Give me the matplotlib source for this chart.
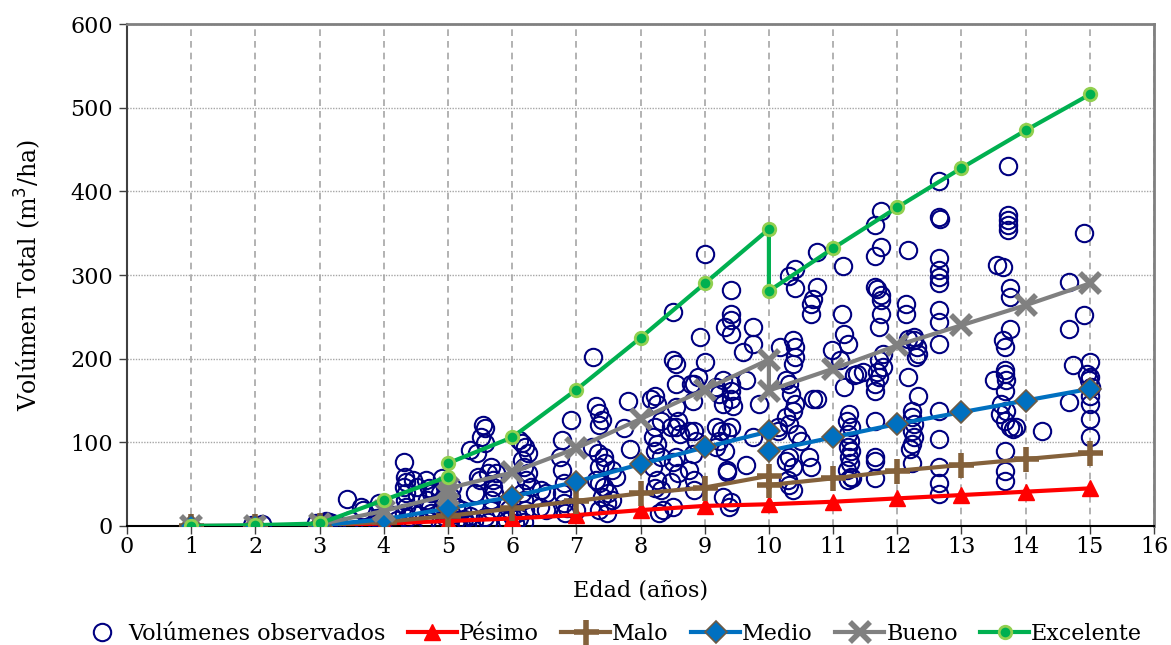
import matplotlib
matplotlib.use('Agg')
import matplotlib.pyplot as plt

# Model curves (age in years, total volume m3/ha)
pesimo_age = [1, 2, 3, 4, 5, 6, 7, 8, 9, 10, 11, 12, 13, 14, 15]
pesimo_vol = [0, 0, 1, 3, 6, 9, 13, 19, 24, 26, 29, 33, 37, 41, 45]

malo_age = [1, 2, 3, 4, 5, 6, 7, 8, 9, 10, 10, 11, 12, 13, 14, 15]
malo_vol = [0, 0, 1, 5, 12, 21, 30, 39, 46, 60, 49, 57, 66, 73, 80, 87]

medio_age = [1, 2, 3, 4, 5, 6, 7, 8, 9, 10, 10, 11, 12, 13, 14, 15]
medio_vol = [0, 0, 1, 8, 21, 35, 53, 74, 94, 113, 90, 106, 122, 136, 150, 164]

bueno_age = [1, 2, 3, 4, 5, 5, 6, 7, 8, 9, 10, 10, 11, 12, 13, 14, 15]
bueno_vol = [0, 0, 2, 18, 37, 45, 64, 93, 128, 163, 199, 162, 188, 216, 240, 264, 290]

excel_age = [1, 2, 3, 4, 5, 5, 6, 7, 8, 9, 10, 10, 11, 12, 13, 14, 15]
excel_vol = [0, 1, 3, 31, 59, 75, 106, 163, 225, 290, 355, 281, 332, 381, 428, 473, 516]

# Observed volumes (age, volume)
observados = [
    # ~2-3 years
    (1.95, 1), (2.1, 2),
    (2.95, 3), (3.0, 1), (3.05, 4), (3.1, 2), (3.15, 5), (3.2, 3), (3.05, 0), (3.1, 6),
    (3.42, 32), (3.47, 7), (3.52, 1), (3.65, 23), (3.67, 19), (3.89, 10), (3.98, 7),
    (3.9, 4), (3.92, 28), (4.17, 13), (4.2, 7), (4.14, 1),
    # ~4-5 years
    (4.32, 77), (4.33, 59), (4.35, 53), (4.31, 47), (4.34, 39), (4.33, 31), (4.35, 23),
    (4.31, 15), (4.36, 9),
    (4.46, 55), (4.51, 47), (4.51, 37), (4.46, 15), (4.53, 13),
    (4.66, 55), (4.7, 45), (4.74, 39), (4.68, 31), (4.72, 23), (4.74, 15), (4.68, 7),
    (4.9, 57), (4.95, 47), (4.88, 39), (4.93, 31), (4.9, 19), (4.95, 11), (4.88, 3),
    (5.07, 47), (5.05, 35), (5.12, 23), (5.07, 13), (5.12, 7), (5.22, 19),
    (5.2, 1), (5.25, 8), (5.3, 2), (5.15, 2), (5.35, 12), (5.4, 6),
    (5.34, 91), (5.45, 87), (5.55, 121), (5.57, 117), (5.52, 107), (5.57, 99), (5.47, 59),
    (5.42, 39), (5.5, 55), (5.62, 63), (5.67, 71), (5.7, 55), (5.7, 47), (5.72, 39),
    (5.75, 63), (5.67, 31), (5.67, 19), (5.57, 11), (5.62, 5),
    (5.9, 28), (5.95, 20), (6.0, 12), (5.92, 6), (6.05, 3),
    # ~6-7 years
    (6.1, 103), (6.15, 99), (6.2, 95), (6.25, 87), (6.15, 79), (6.18, 71), (6.25, 63),
    (6.22, 55), (6.3, 47), (6.15, 39), (6.18, 31), (6.2, 19), (6.08, 15), (6.1, 9), (6.18, 5),
    (6.45, 43), (6.53, 39), (6.43, 23), (6.53, 19),
    (6.92, 127), (6.78, 103), (6.75, 83), (6.78, 67), (6.8, 51), (6.78, 39), (6.8, 27),
    (6.85, 21), (6.82, 15), (7.0, 19),
    (7.3, 143), (7.35, 135), (7.4, 127), (7.35, 121),
    (7.25, 95), (7.33, 87), (7.43, 83), (7.45, 75), (7.35, 71), (7.55, 67), (7.62, 59),
    (7.35, 51), (7.43, 47), (7.5, 39), (7.4, 35), (7.3, 55), (7.48, 27), (7.55, 31),
    (7.35, 19), (7.48, 15),
    (7.26, 202), (7.75, 117), (7.83, 92), (7.8, 150),
    # ~8-9 years
    (8.17, 152), (8.23, 156), (8.26, 146), (8.23, 118), (8.32, 126), (8.2, 106), (8.26, 98),
    (8.23, 90), (8.32, 82), (8.2, 70), (8.26, 55), (8.32, 43), (8.23, 45), (8.35, 19), (8.29, 15),
    (8.56, 170), (8.5, 198), (8.56, 194), (8.56, 142), (8.59, 126), (8.47, 118), (8.56, 118),
    (8.62, 110), (8.56, 82), (8.5, 76), (8.59, 63), (8.47, 53), (8.5, 23), (8.5, 256),
    (8.78, 170), (8.84, 170), (8.81, 150), (8.75, 114), (8.84, 114), (8.87, 102), (8.81, 86),
    (8.75, 67), (8.84, 55), (8.84, 43), (8.9, 178), (9.0, 196), (8.93, 226),
    (9.0, 325), (9.17, 166), (9.23, 158), (9.29, 146), (9.17, 118), (9.26, 114), (9.23, 102),
    (9.17, 94), (9.32, 90), (9.35, 67), (9.29, 35), (9.41, 29), (9.38, 23),
    (9.41, 282), (9.41, 254), (9.41, 246), (9.32, 238), (9.41, 230), (9.59, 208), (9.75, 238),
    (9.75, 218), (9.65, 174), (9.41, 170), (9.41, 162), (9.41, 152), (9.44, 144), (9.29, 174),
    (9.41, 118), (9.35, 112), (9.75, 106), (9.65, 73), (9.35, 65), (9.84, 146),
    # ~10-11 years
    (10.17, 214), (10.38, 222), (10.41, 214), (10.41, 202), (10.38, 194), (10.26, 174),
    (10.32, 170), (10.35, 158), (10.41, 146), (10.38, 138), (10.26, 130), (10.32, 122),
    (10.14, 118), (10.44, 110), (10.32, 82), (10.26, 78), (10.38, 70), (10.29, 55),
    (10.38, 43), (10.32, 49), (10.5, 102), (10.62, 82), (10.65, 70), (10.68, 152),
    (10.75, 152), (10.75, 286), (10.68, 272), (10.65, 266), (10.65, 254), (10.14, 114),
    (10.32, 299), (10.41, 307), (10.41, 285), (10.75, 328),
    (11.16, 311), (11.14, 254), (11.17, 230), (11.23, 218), (10.99, 210), (11.11, 198),
    (11.17, 166), (11.32, 180), (11.38, 182), (11.47, 184), (11.65, 170), (11.65, 162),
    (11.71, 178), (11.68, 184), (11.71, 198), (11.71, 238), (11.75, 254), (11.75, 270),
    (11.65, 286),
    (11.25, 134), (11.22, 126), (11.28, 118), (11.24, 110), (11.27, 102), (11.24, 94),
    (11.28, 90), (11.25, 82), (11.27, 75), (11.22, 67), (11.28, 59), (11.24, 55), (11.3, 57),
    (11.65, 126), (11.65, 82), (11.65, 78), (11.65, 57), (11.78, 206), (11.78, 190),
    (11.65, 360), (11.75, 377), (11.65, 323), (11.75, 333), (11.68, 283), (11.75, 276),
    # ~12-13 years
    (12.16, 330), (12.14, 266), (12.14, 254), (12.17, 224), (12.26, 222), (12.32, 206),
    (12.29, 202), (12.17, 178), (12.32, 156), (12.23, 138), (12.23, 130), (12.26, 122),
    (12.23, 114), (12.26, 106), (12.23, 98), (12.2, 92), (12.23, 75), (12.26, 226), (12.3, 214),
    (12.65, 413), (12.65, 370), (12.66, 367), (12.65, 321), (12.65, 306), (12.65, 298),
    (12.65, 290), (12.65, 258), (12.65, 244), (12.65, 218), (12.65, 138), (12.65, 104),
    (12.65, 70), (12.65, 52), (12.65, 38),
    # ~13.5-15 years
    (13.73, 430), (13.73, 372), (13.73, 366), (13.73, 360), (13.73, 354), (13.56, 312),
    (13.65, 310), (13.75, 284), (13.75, 274), (13.75, 236), (13.65, 222), (13.68, 214),
    (13.5, 174), (13.68, 182), (13.7, 174), (13.68, 162), (13.62, 146), (13.6, 134),
    (13.68, 126), (13.75, 118), (13.8, 116), (13.85, 118), (13.68, 90), (13.68, 66),
    (13.68, 54), (13.68, 186), (13.7, 138),
    (14.25, 113),
    (14.91, 350), (14.67, 292), (14.91, 252), (14.67, 236), (14.74, 192), (15.0, 196),
    (14.95, 182), (14.98, 174), (15.0, 178), (15.02, 166), (15.0, 156), (15.0, 146),
    (15.0, 128), (15.0, 106), (14.67, 148),
]
obs_age = [p[0] for p in observados]
obs_vol = [p[1] for p in observados]

x_ticks = list(range(0, 17))
y_ticks = [0, 100, 200, 300, 400, 500, 600]

plt.rcParams['font.family'] = ['DejaVu Serif']

fig = plt.figure(figsize=(11.71, 6.45), dpi=100)
ax = fig.add_axes([0.1085, 0.1845, 0.877, 0.778])

ax.plot(obs_age, obs_vol, linestyle='none', marker='o', ms=12.5, mfc='none',
        mec='#000080', mew=1.5, label='Volúmenes observados', zorder=3)
ax.plot(pesimo_age, pesimo_vol, color='#FF0000', lw=3, marker='^', ms=11,
        mfc='#FF0000', mec='#FF0000', label='Pésimo', zorder=4)
ax.plot(malo_age, malo_vol, color='#84613B', lw=3, marker='+', ms=18, mew=4,
        label='Malo', zorder=4)
ax.plot(medio_age, medio_vol, color='#0070C0', lw=3, marker='D', ms=11,
        mfc='#0070C0', mec='#6B5A45', mew=1.2, label='Medio', zorder=4)
ax.plot(bueno_age, bueno_vol, color='#808080', lw=3, marker='x', ms=14, mew=4,
        label='Bueno', zorder=4)
ax.plot(excel_age, excel_vol, color='#00B050', lw=3, marker='o', ms=9,
        mfc='#00B050', mec='#92D050', mew=2, label='Excelente', zorder=5)

ax.set_xlim(0, 16)
ax.set_ylim(0, 600)
ax.set_xticks(x_ticks)
ax.set_yticks(y_ticks)
ax.tick_params(axis='both', labelsize=16, direction='out', length=6, width=1, color='#404040')
ax.tick_params(axis='x', pad=1)
ax.tick_params(axis='y', pad=4)

ax.xaxis.grid(True, linestyle=(0, (4, 3)), color='#A6A6A6', lw=1.2)
ax.yaxis.grid(True, linestyle=(0, (1, 1)), color='#A6A6A6', lw=1.0)
ax.set_axisbelow(True)

for side in ['top', 'right']:
    ax.spines[side].set_color('#808080')
    ax.spines[side].set_linewidth(2)
ax.spines['left'].set_color('#404040')
ax.spines['bottom'].set_color('#000000')
ax.spines['left'].set_linewidth(1.5)
ax.spines['bottom'].set_linewidth(1.5)

ax.set_xlabel('Edad (años)', fontsize=16, labelpad=16)
ax.set_ylabel('Volúmen Total (m$^3$/ha)', fontsize=17, labelpad=20)

ax.legend(loc='upper center', bbox_to_anchor=(0.47, -0.175), ncol=6, frameon=False,
          fontsize=16, handlelength=2.2, handletextpad=0.1, columnspacing=1.0,
          borderaxespad=0)

fig.savefig('out.png', dpi=100)
